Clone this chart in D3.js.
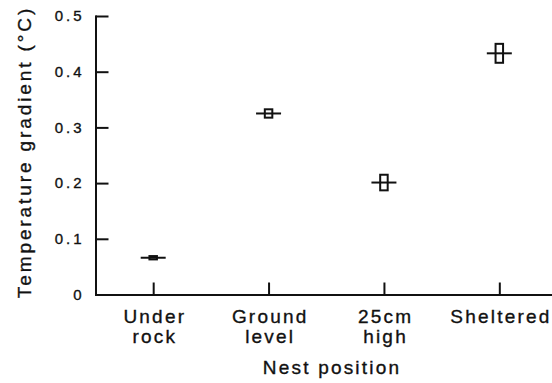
<!DOCTYPE html>
<html>
<head>
<meta charset="utf-8">
<script src="https://cdn.jsdelivr.net/npm/d3@7"></script>
<style>
  body { margin: 0; background: #fff; }
  svg { display: block; }
  svg text { font-family: 'Liberation Sans', Arial, sans-serif; fill: #111; stroke: #111; stroke-width: 0.35px; }
  .axis path, .axis line { stroke: #111; stroke-width: 2; }
  .axis path { stroke-linecap: square; }
  .marker line, .marker rect { stroke: #111; stroke-width: 2; }
  .marker rect { fill: #fff; }
</style>
</head>
<body>
<svg id="chart" width="552" height="383"></svg>
<script>
// data: mean temperature gradient with SE box
const positions = ['Under rock', 'Ground level', '25cm high', 'Sheltered'];
const positionLabels = [['Under', 'rock'], ['Ground', 'level'], ['25cm', 'high'], ['Sheltered']];
const gradientMeans = [0.066, 0.325, 0.201, 0.433];
const gradientErrors = [0.003, 0.0075, 0.014, 0.017];
const yTicks = [0, 0.1, 0.2, 0.3, 0.4, 0.5];
const yTickLabels = ['0', '0.1', '0.2', '0.3', '0.4', '0.5'];

const svg = d3.select('#chart');

const y = d3.scaleLinear()
  .domain([0, 0.5])
  .range([294.5, 16]);

const x = d3.scalePoint()
  .domain(positions)
  .range([95.5, 557])
  .padding(0.5);

// y axis, ticks pointing inward
const yAxis = svg.append('g')
  .attr('class', 'axis')
  .attr('transform', 'translate(95.5,0)')
  .call(d3.axisLeft(y)
    .tickValues(yTicks)
    .tickFormat((d, i) => yTickLabels[i])
    .tickSizeInner(-13)
    .tickSizeOuter(0)
    .tickPadding(11));
yAxis.selectAll('text')
  .style('font-size', '15px')
  .style('letter-spacing', '3px');

// x axis, ticks pointing up
const xAxis = svg.append('g')
  .attr('class', 'axis')
  .attr('transform', `translate(0,${y(0)})`)
  .call(d3.axisBottom(x)
    .tickSizeInner(-12)
    .tickSizeOuter(0));

xAxis.selectAll('.tick text')
  .attr('y', 0)
  .attr('dy', null)
  .style('font-size', '19px')
  .style('letter-spacing', '2.2px')
  .text(null)
  .each(function (d) {
    const lines = positionLabels[positions.indexOf(d)];
    lines.forEach((line, j) => {
      d3.select(this).append('tspan')
        .attr('x', 1.1)
        .attr('y', 28 + j * 20.5)
        .text(line);
    });
  });

// axis titles
svg.append('text')
  .attr('x', 332)
  .attr('y', 374)
  .attr('text-anchor', 'middle')
  .style('font-size', '19px')
  .style('letter-spacing', '2.2px')
  .text('Nest position');

svg.append('text')
  .attr('transform', 'translate(30.5,152) rotate(-90)')
  .attr('text-anchor', 'middle')
  .style('font-size', '19px')
  .style('letter-spacing', '2.9px')
  .text('Temperature gradient (°C)');

// mean markers: SE box crossed by a horizontal bar
const markers = svg.append('g')
  .selectAll('g')
  .data(positions)
  .join('g')
  .attr('class', 'marker')
  .attr('transform', (d) => `translate(${x(d)},0)`);

markers.append('rect')
  .attr('x', -3.75)
  .attr('width', 7.5)
  .attr('y', (d, i) => y(gradientMeans[i] + gradientErrors[i]))
  .attr('height', (d, i) => y(gradientMeans[i] - gradientErrors[i]) - y(gradientMeans[i] + gradientErrors[i]));

markers.append('line')
  .attr('x1', -12.5)
  .attr('x2', 12.5)
  .attr('y1', (d, i) => y(gradientMeans[i]))
  .attr('y2', (d, i) => y(gradientMeans[i]));
</script>
</body>
</html>
